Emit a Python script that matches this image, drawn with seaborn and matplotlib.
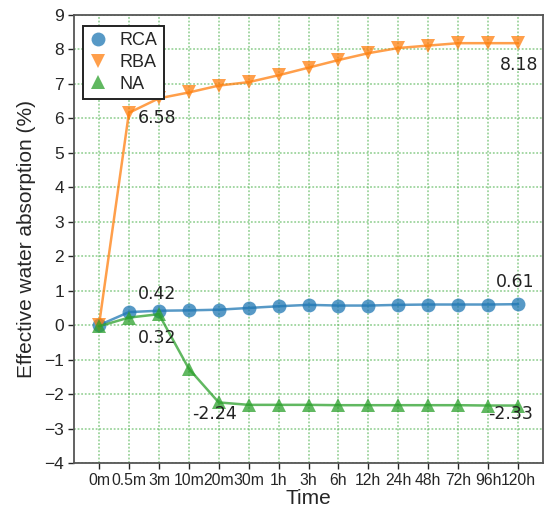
import matplotlib
matplotlib.use("Agg")
import matplotlib.pyplot as plt
import seaborn as sns
import pandas as pd

times = ["0m", "0.5m", "3m", "10m", "20m", "30m", "1h", "3h", "6h", "12h",
         "24h", "48h", "72h", "96h", "120h"]
rca = [0.0, 0.38, 0.42, 0.43, 0.45, 0.50, 0.55, 0.59, 0.57, 0.57, 0.59, 0.60, 0.60, 0.60, 0.61]
rba = [0.0, 6.16, 6.58, 6.75, 6.95, 7.05, 7.25, 7.47, 7.69, 7.89, 8.04, 8.11, 8.18, 8.18, 8.18]
na = [-0.03, 0.22, 0.32, -1.26, -2.24, -2.31, -2.31, -2.31, -2.32, -2.32, -2.32, -2.32, -2.32, -2.33, -2.33]
series_names = ["RCA", "RBA", "NA"]

df = pd.DataFrame({
    "t": list(range(len(times))) * 3,
    "value": rca + rba + na,
    "series": [n for n, vals in zip(series_names, [rca, rba, na]) for _ in vals],
})

sns.set_style("white")
plt.rcParams["font.family"] = ["Liberation Sans", "DejaVu Sans"]

fig = plt.figure(figsize=(5.47, 5.14), dpi=100)
ax = fig.add_axes([0.135, 0.099, 0.858, 0.872])

palette = {"RCA": "#1f77b4", "RBA": "#ff7f0e", "NA": "#2ca02c"}
markers = {"RCA": "o", "RBA": "v", "NA": "^"}
sns.lineplot(data=df, x="t", y="value", hue="series", style="series",
             palette=palette, markers=markers, dashes=False, markersize=10,
             markeredgewidth=0, alpha=0.75, linewidth=1.8, ax=ax, zorder=3)

ax.set_xlim(-0.84, 14.84)
ax.set_ylim(-4, 9)
ax.set_xticks(range(len(times)))
ax.set_xticklabels(times, fontsize=11.3)
ax.set_yticks(range(-4, 10))
ax.tick_params(axis="y", labelsize=12.5, length=4, width=1, direction="out", left=True, pad=3)
ax.tick_params(axis="x", length=4, width=1, direction="out", bottom=True, pad=3)
ax.grid(True, color="#5cb85c", linestyle=(0, (1, 1)), linewidth=1.3, alpha=0.6)
for s in ax.spines.values():
    s.set_color("#555555")
    s.set_linewidth(1.3)

ax.set_xlabel("Time", fontsize=15, labelpad=1)
ax.set_ylabel("Effective water absorption (%)", fontsize=15, labelpad=6)

# value annotations
lab_font = dict(fontsize=12.5, family="DejaVu Sans", color="#222222",
                ha="center", va="center", fontweight="medium")
ax.text(1.95, 6.0, f"{rba[2]:.2f}", **lab_font)
ax.text(14.05, 7.55, f"{rba[-1]:.2f}", **lab_font)
ax.text(1.94, 0.9, f"{rca[2]:.2f}", **lab_font)
ax.text(13.9, 1.25, f"{rca[-1]:.2f}", **lab_font)
ax.text(1.94, -0.38, f"{na[2]:.2f}", **lab_font)
ax.text(3.85, -2.57, f"{na[4]:.2f}", **lab_font)
ax.text(13.75, -2.57, f"{na[-1]:.2f}", **lab_font)

handles, labels = ax.get_legend_handles_labels()
leg = ax.legend(handles, labels, loc="upper left", fontsize=13, frameon=True,
                fancybox=False, edgecolor="#222222", framealpha=1,
                handlelength=1.0, handletextpad=0.7, borderpad=0.35,
                labelspacing=0.25, bbox_to_anchor=(0.0, 0.995), markerscale=1.0)
leg.get_frame().set_linewidth(1.4)
for h in leg.legend_handles:
    h.set_linestyle("None")

fig.savefig("out.png", dpi=100)
